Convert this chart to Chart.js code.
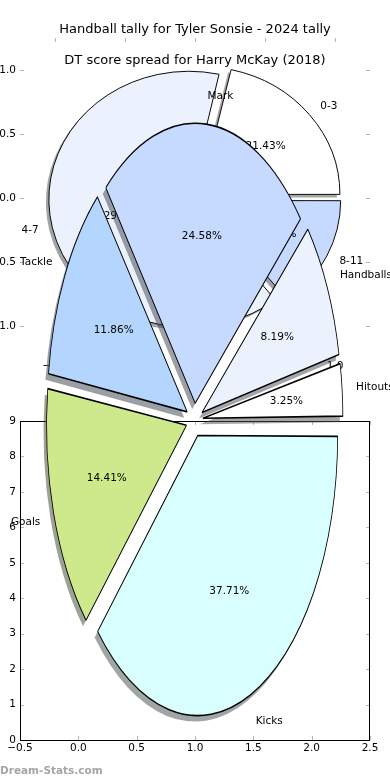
<!DOCTYPE html>
<html>
<head>
<meta charset="utf-8">
<script src="https://cdn.jsdelivr.net/npm/chart.js@4.4.1/dist/chart.umd.min.js"></script>
<style>
html, body { margin: 0; padding: 0; background: #fff; }
#wrap { position: relative; width: 390px; height: 780px; overflow: hidden; }
#wrap canvas { position: absolute; left: 0; top: 0; }
#mark { position: absolute; left: 0; top: 764px; font: bold 10.5px "DejaVu Sans", sans-serif; line-height: 12px; color: #a2a6aa; }
</style>
</head>
<body>
<div id="wrap">
  <canvas id="backAxes" width="390" height="780"></canvas>
  <canvas id="backShadow" width="390" height="780" style="left:-3px;top:3px"></canvas>
  <canvas id="backPie" width="390" height="780"></canvas>
  <canvas id="frontAxes" width="390" height="780"></canvas>
  <canvas id="frontShadow" width="390" height="780" style="left:-3px;top:6px"></canvas>
  <canvas id="frontPie" width="390" height="780"></canvas>
  <div id="mark">Dream-Stats.com</div>
</div>
<script>
// back chart: handball tally
const backTitle = 'Handball tally for Tyler Sonsie - 2024 tally';
const backLabels = ['8-11', '4-7', '0-3'];
const backValues = [2, 9, 3];
const backColors = ['#c6d9fe', '#ebf2fe', '#ffffff'];
const backXTicks = [-1.0, -0.5, 0.0, 0.5, 1.0];
const backYTicks = [-1.0, -0.5, 0.0, 0.5, 1.0];

// front chart: DT score spread
const frontTitle = 'DT score spread for Harry McKay (2018)';
const frontLabels = ['Kicks', 'Goals', 'Tackle', 'Mark', 'Handballs', 'Hitouts'];
const frontValues = [37.71, 14.41, 11.86, 24.58, 8.19, 3.25];
const frontColors = ['#d8fefe', '#cde98c', '#b4d5fe', '#c6d9fe', '#ebf2fe', '#ffffff'];
const frontXTicks = [-0.5, 0.0, 0.5, 1.0, 1.5, 2.0, 2.5];
const frontYTicks = [0, 1, 2, 3, 4, 5, 6, 7, 8, 9];

Chart.defaults.font.family = '"DejaVu Sans", sans-serif';
Chart.defaults.font.size = 10.5;
Chart.defaults.color = '#000';

const fmt1 = v => v.toFixed(1).replace('-', '\u2212');

// gray copy of a colour for the drop shadow
function shade(hex) {
    const n = parseInt(hex.slice(1), 16);
    const r = (n >> 16) & 255, g = (n >> 8) & 255, b = n & 255;
    return 'rgba(' + Math.round(r * 0.3) + ',' + Math.round(g * 0.3) + ',' + Math.round(b * 0.3) + ',0.5)';
}

// squeeze the round pie into an ellipse (axes not equal)
function squash(sy, R, off) {
    return {
        id: 'squash',
        afterDatasetsUpdate(chart) {
            // chart.js grows exploded arcs a bit, keep them at R
            chart.getDatasetMeta(0).data.forEach(a => {
                a.outerRadius = R - off * (1 - Math.sin(Math.min(Math.PI, a.circumference)));
            });
        },
        beforeDatasetsDraw(chart) {
            const a = chart.getDatasetMeta(0).data[0];
            const ctx = chart.ctx;
            ctx.save();
            ctx.translate(a.x, a.y);
            ctx.scale(1, sy);
            ctx.translate(-a.x, -a.y);
        },
        afterDatasetsDraw(chart) {
            chart.ctx.restore();
        }
    };
}

// labels at 1.1 r and percentages at 0.6 r
function pieText(labels, values, sy, R, off) {
    return {
        id: 'pieText',
        afterDraw(chart) {
            const ctx = chart.ctx;
            const total = values.reduce((s, v) => s + v, 0);
            ctx.save();
            ctx.font = '10.5px "DejaVu Sans"';
            ctx.fillStyle = '#000';
            ctx.textBaseline = 'middle';
            chart.getDatasetMeta(0).data.forEach((a, i) => {
                const m = (a.startAngle + a.endAngle) / 2;
                const c = Math.cos(m), s = Math.sin(m);
                const px = d => a.x + (d * R + off) * c;
                const py = d => a.y + sy * (d * R + off) * s;
                ctx.textAlign = c > 0 ? 'left' : 'right';
                ctx.fillText(labels[i], px(1.1), py(1.1));
                ctx.textAlign = 'center';
                ctx.fillText((values[i] / total * 100).toFixed(2) + '%', px(0.6), py(0.6));
            });
            ctx.restore();
        }
    };
}

function newPie(id, labels, values, colors, o, shadow) {
    const plugins = [squash(o.sy, o.R, o.off)];
    if (!shadow) plugins.push(pieText(labels, values, o.sy, o.R, o.off));
    new Chart(document.getElementById(id), {
        type: 'pie',
        data: {
            labels: labels,
            datasets: [{
                data: values,
                backgroundColor: shadow ? colors.map(shade) : colors,
                borderColor: '#000',
                borderWidth: shadow ? 0 : o.bw,
                offset: o.off * 4, // arc.js divides by 4
                clip: false
            }]
        },
        options: {
            responsive: false,
            animation: false,
            events: [],
            rotation: 90,
            radius: o.R,
            layout: { padding: o.pad },
            plugins: { legend: { display: false }, tooltip: { enabled: false } }
        },
        plugins: plugins
    });
}

// axes frame, inward ticks and title
function axesDeco(frame, title, titleY) {
    return {
        id: 'deco',
        afterDraw(chart) {
            const { ctx, chartArea: a, scales: { x, y } } = chart;
            ctx.save();
            ctx.strokeStyle = '#b4b4b4';
            ctx.lineWidth = 1;
            ctx.beginPath();
            x.ticks.forEach(t => {
                const p = Math.round(x.getPixelForValue(t.value)) + 0.5;
                ctx.moveTo(p, a.top); ctx.lineTo(p, a.top + 4);
                ctx.moveTo(p, a.bottom); ctx.lineTo(p, a.bottom - 4);
            });
            y.ticks.forEach(t => {
                const p = Math.round(y.getPixelForValue(t.value)) + 0.5;
                ctx.moveTo(a.left, p); ctx.lineTo(a.left + 4, p);
                ctx.moveTo(a.right, p); ctx.lineTo(a.right - 4, p);
            });
            ctx.stroke();
            if (frame) {
                ctx.strokeStyle = '#000';
                ctx.strokeRect(a.left + 0.5, a.top + 0.5, a.right - a.left - 1, a.bottom - a.top);
            }
            ctx.font = '13px "DejaVu Sans"';
            ctx.fillStyle = '#000';
            ctx.textAlign = 'center';
            ctx.textBaseline = 'middle';
            ctx.fillText(title, 195, titleY);
            ctx.restore();
        }
    };
}

function newAxes(id, xr, yr, xt, yt, xf, yf, pad, frame, title, titleY) {
    new Chart(document.getElementById(id), {
        type: 'scatter',
        data: { datasets: [] },
        options: {
            responsive: false,
            animation: false,
            events: [],
            layout: { padding: pad.layout },
            scales: {
                x: {
                    type: 'linear', min: xr[0], max: xr[1],
                    afterBuildTicks: s => { s.ticks = xt.map(v => ({ value: v })); },
                    afterFit: s => { s.height = pad.xh; },
                    ticks: { callback: xf, padding: 2, autoSkip: false, maxRotation: 0 },
                    grid: { display: false, drawTicks: false },
                    border: { display: false }
                },
                y: {
                    type: 'linear', min: yr[0], max: yr[1],
                    afterBuildTicks: s => { s.ticks = yt.map(v => ({ value: v })); },
                    afterFit: s => { s.width = 20; },
                    ticks: { callback: yf, padding: 4, autoSkip: false },
                    grid: { display: false, drawTicks: false },
                    border: { display: false }
                }
            },
            plugins: { legend: { display: false }, tooltip: { enabled: false } }
        },
        plugins: [axesDeco(frame, title, titleY)]
    });
}

window.addEventListener('DOMContentLoaded', () => {
    newAxes('backAxes', [-1.25, 1.25], [-1.25, 1.25], backXTicks, backYTicks, fmt1, fmt1,
        { layout: { top: 38, right: 20, left: 0, bottom: 402 }, xh: 20 }, false, backTitle, 30);

    const backOpt = { sy: 128 / 140, R: 140, off: 6.3, bw: 1, pad: { top: 0, bottom: 384, left: 0, right: 0 } };
    newPie('backShadow', backLabels, backValues, backColors, backOpt, true);
    newPie('backPie', backLabels, backValues, backColors, backOpt, false);

    newAxes('frontAxes', [-0.5, 2.5], [0, 9], frontXTicks, frontYTicks, fmt1, v => String(v),
        { layout: { top: 421, right: 20, left: 0, bottom: 0 }, xh: 40 }, true, frontTitle, 61);

    const frontOpt = { sy: 2, R: 140, off: 8.4, bw: 0.8, pad: { top: 60, bottom: 0, left: 0, right: 1 } };
    newPie('frontShadow', frontLabels, frontValues, frontColors, frontOpt, true);
    newPie('frontPie', frontLabels, frontValues, frontColors, frontOpt, false);
});
</script>
</body>
</html>
